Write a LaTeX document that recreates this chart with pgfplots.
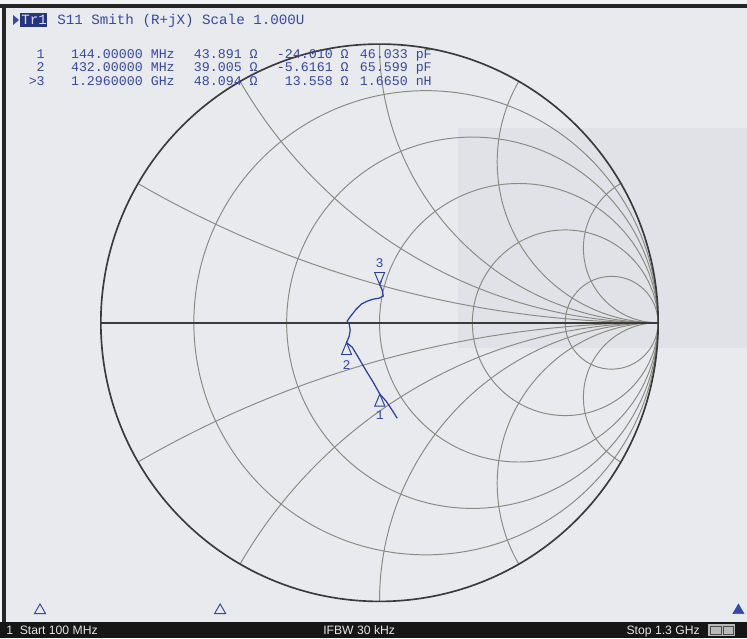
\documentclass[border=0pt]{standalone}
\usepackage{pgfplots}
\pgfplotsset{compat=1.18}
\usepackage{fontspec}
\setmainfont{Liberation Sans}
\setsansfont{Liberation Sans}
\setmonofont{Liberation Mono}
\definecolor{pagebg}{HTML}{F3F4F5}
\definecolor{scr}{HTML}{E8EAEE}
\definecolor{panel}{HTML}{E0E2E7}
\definecolor{gridc}{HTML}{8A8A82}
\definecolor{outer}{HTML}{3A3A3A}
\definecolor{trace}{HTML}{2B3FA8}
\definecolor{txt}{HTML}{3848A6}
\definecolor{bar}{HTML}{161616}
\definecolor{badge}{HTML}{26357F}
\newcommand\hdr{\fontsize{10.26}{12}\selectfont\ttfamily}
\newcommand\mk{\fontsize{9.6}{11}\selectfont\ttfamily}
\newcommand\barf{\fontsize{8.8}{11}\selectfont\rmfamily}
\pgfdeclareplotmark{mtri}{%
  \pgfpathmoveto{\pgfpoint{0pt}{0pt}}%
  \pgfpathlineto{\pgfpoint{-3.6pt}{-8.6pt}}%
  \pgfpathlineto{\pgfpoint{3.6pt}{-8.6pt}}%
  \pgfpathclose\pgfusepathqstroke}
\begin{document}
\begin{tikzpicture}
\begin{scope}[x=0.01in,y=-0.01in,shift={(0,6.38in)}]
  % background and frame
  \fill[pagebg] (0,0) rectangle (747,638);
  \fill[scr] (6,7) rectangle (747,622);
  \fill[panel] (458,128) rectangle (747,348);
  \fill[black!85] (0,4) rectangle (747,8);
  \fill[black!85] (2,4) rectangle (6,638);
  % Smith grid: resistance circles
  \foreach \r in {0.2,0.5,1,2,5} {
    \draw[gridc, line width=0.7pt] ({379.5+278.5*\r/(1+\r)},322.75) circle[radius={278.5*0.01in/(1+\r)}];
  }
  % reactance arcs
  \begin{scope}
    \clip (379.5,322.75) circle[radius=2.785in];
    \foreach \R in {1039.4,482.4,278.5,160.8,74.6} {
      \draw[gridc, line width=0.7pt] (658,{322.75-\R}) circle[radius={\R*0.01in}];
      \draw[gridc, line width=0.7pt] (658,{322.75+\R}) circle[radius={\R*0.01in}];
    }
  \end{scope}
  \draw[outer, line width=1.2pt] (101,322.75) -- (658,322.75);
  \draw[outer, line width=1.2pt] (379.5,322.75) circle[radius=2.785in];
  % header
  \fill[txt] (13,15) -- (19,20) -- (13,25) -- cycle;
  \fill[badge] (20,13) rectangle (47,27);
  \node[anchor=base west, inner sep=0pt, text=white!85!blue, font=\hdr] at (21,24.5) {Tr1};
  \node[anchor=base west, inner sep=0pt, text=txt, font=\hdr] at (57,24.5) {S11 Smith (R+jX) Scale 1.000U};
  % marker table
  \foreach \y/\n/\f/\r/\x/\c in {58.5/1/144.00000 MHz/43.891 Ω/-24.010 Ω/46.033 pF,
                                  72/2/432.00000 MHz/39.005 Ω/-5.6161 Ω/65.599 pF,
                                  85.5/>3/1.2960000 GHz/48.094 Ω/13.558 Ω/1.6650 nH} {
    \node[anchor=base east, inner sep=0pt, text=txt, font=\mk] at (45,\y) {\n};
    \node[anchor=base east, inner sep=0pt, text=txt, font=\mk] at (175,\y) {\f};
    \node[anchor=base east, inner sep=0pt, text=txt, font=\mk] at (258,\y) {\r};
    \node[anchor=base east, inner sep=0pt, text=txt, font=\mk] at (349,\y) {\x};
    \node[anchor=base east, inner sep=0pt, text=txt, font=\mk] at (432,\y) {\c};
  }
  % status bar
  \fill[bar] (0,622) rectangle (747,638);
  \node[anchor=base west, inner sep=0pt, text=white!90!black, font=\barf] at (6,634) {1\ \ Start 100 MHz};
  \node[anchor=base west, inner sep=0pt, text=white!90!black, font=\barf] at (323,634) {IFBW 30 kHz};
  \node[anchor=base east, inner sep=0pt, text=white!90!black, font=\barf] at (700,634) {Stop 1.3 GHz};
  \fill[gray!55] (708,624) rectangle (735,636);
  \draw[black!70, line width=0.5pt] (710,626) rectangle (721,634) (723,626) rectangle (733,634);
\end{scope}
\begin{axis}[at={(0,0)}, anchor=south west, scale only axis,
  width=7.47in, height=6.38in,
  xmin=-1.362657, xmax=1.319569, ymin=-1.131957, ymax=1.158887,
  hide axis, clip=false]
  % S11 trace, 100 MHz ... 1.3 GHz (reflection coefficient plane)
  \addplot[trace, line width=0.9pt, mark=none] coordinates {
    (0.0628,-0.3420) (0.0449,-0.3133) (0.0233,-0.2810) (0.0003,-0.2555)
    (-0.0233,-0.2127) (-0.0521,-0.1661) (-0.0772,-0.1230) (-0.0987,-0.0871)
    (-0.1191,-0.0706) (-0.1095,-0.0476) (-0.1059,-0.0260) (-0.1095,-0.0045)
    (-0.1167,0.0063) (-0.1095,0.0171) (-0.0987,0.0314) (-0.0844,0.0494)
    (-0.0664,0.0673) (-0.0449,0.0781) (-0.0233,0.0853) (-0.0018,0.0889)
    (0.0126,0.0961) (0.0090,0.1176) (-0.0003,0.1383) (0.0054,0.1499)
  };
  % markers 1, 2 (triangle below point) and 3 (triangle above point)
  \addplot[trace, only marks, mark=mtri, line width=0.7pt] coordinates {(0.0003,-0.2555) (-0.1191,-0.0706)};
  \addplot[trace, only marks, mark=mtri, line width=0.7pt, mark options={rotate=180}] coordinates {(-0.0003,0.1383)};
  \node[text=txt, font=\mk, inner sep=0pt] at (axis cs:0.0003,-0.2555) [yshift=-15.5pt] {1};
  \node[text=txt, font=\mk, inner sep=0pt] at (axis cs:-0.1191,-0.0706) [yshift=-16pt] {2};
  \node[text=txt, font=\mk, inner sep=0pt] at (axis cs:-0.0003,0.1383) [yshift=15.5pt] {3};
  % stimulus position indicators along the bottom
  \addplot[txt, only marks, mark=triangle, mark size=4.6pt, line width=0.7pt] coordinates {(-1.2190,-1.0314) (-0.5727,-1.0314)};
  \addplot[txt, only marks, mark=triangle*, mark size=4.6pt, mark options={fill=txt}] coordinates {(1.2873,-1.0314)};
\end{axis}
\end{tikzpicture}
\end{document}
